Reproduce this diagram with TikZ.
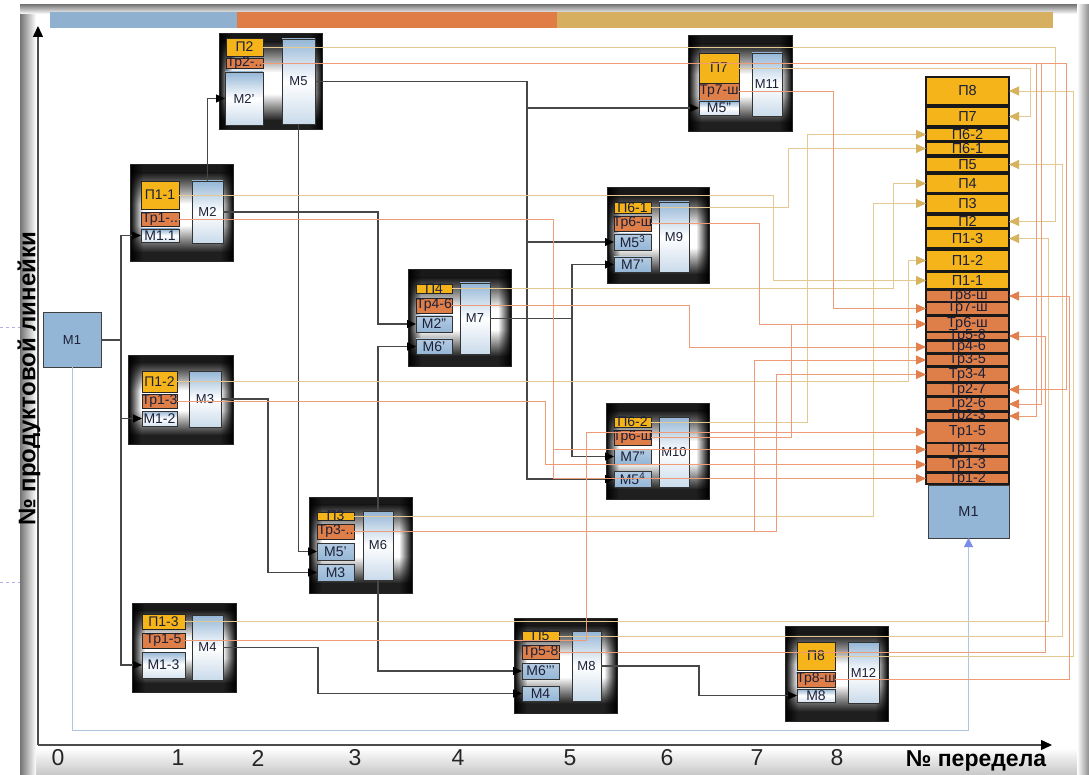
\documentclass[tikz,border=0pt]{standalone}
\usepackage{fontspec}
\setmainfont{Liberation Sans}
\usetikzlibrary{arrows.meta,fadings}
\definecolor{pY}{RGB}{245,180,25}
\definecolor{tO}{RGB}{222,126,72}
\definecolor{mB}{RGB}{148,182,214}
\definecolor{barB}{RGB}{143,176,207}
\definecolor{barO}{RGB}{224,124,70}
\definecolor{barT}{RGB}{214,176,96}
\definecolor{lnT}{RGB}{228,200,145}
\definecolor{lnS}{RGB}{238,155,120}
\definecolor{arT}{RGB}{215,178,95}
\definecolor{arS}{RGB}{226,128,78}
\definecolor{txt}{RGB}{28,32,56}
\definecolor{fbB}{RGB}{175,198,225}
\definecolor{lav}{RGB}{175,175,230}
\tikzfading[name=fadeL, left color=transparent!0, right color=transparent!100]
\tikzfading[name=fadeR, left color=transparent!100, right color=transparent!0]
\newcommand\mkbox[8]{%
 \pgfmathsetmacro\rcx{(#3+#5)/2}%
 \pgfmathsetmacro\rcy{(#4+#6)/2}%
 \pgfmathsetmacro\rw{#5-#3}%
 \pgfmathsetmacro\rh{#6-#4}%
 \node[#1,minimum width=\rw pt,minimum height=\rh pt,inner sep=0pt,outer sep=0pt] (#2) at (\rcx,\rcy) {};%
 \node[#8] (#2t) at (#2.center) {#7};}
\newcommand\mkframe[5]{%
 \pgfmathsetmacro\rcx{(#2+#4)/2}%
 \pgfmathsetmacro\rcy{(#3+#5)/2}%
 \pgfmathsetmacro\rw{#4-#2}%
 \pgfmathsetmacro\rh{#5-#3}%
 \pgfmathsetmacro\ya{#3+0.08*\rh}%
 \pgfmathsetmacro\yb{#3+0.40*\rh}%
 \pgfmathsetmacro\yc{#3+0.62*\rh}%
 \pgfmathsetmacro\yd{#3+0.90*\rh}%
 \fill[black!90] (#2,#3) rectangle (#4,\ya);%
 \shade[top color=black!90,bottom color=white] (#2,\ya) rectangle (#4,\yb);%
 \fill[white] (#2,\yb) rectangle (#4,\yc);%
 \shade[top color=white,bottom color=black!88] (#2,\yc) rectangle (#4,\yd);%
 \fill[black!88] (#2,\yd) rectangle (#4,#5);%
 \fill[black,path fading=fadeL] (#2,#3) rectangle ({#2+13},#5);%
 \fill[black,path fading=fadeR] ({#4-13},#3) rectangle (#4,#5);%
 \node[draw=black!85,line width=1pt,minimum width=\rw pt,minimum height=\rh pt,inner sep=0pt,outer sep=0pt] (#1) at (\rcx,\rcy) {};}
\begin{document}
\begin{tikzpicture}[x=1pt,y=-1pt,
 pbox/.style={fill=pY,draw=black!85,line width=.9pt},
 tbox/.style={fill=tO,draw=black!85,line width=.9pt},
 ibox/.style={top color=mB!70!white,bottom color=mB,draw=black!80,line width=.9pt},
 wbox/.style={top color=mB,bottom color=mB!40!white,middle color=white,draw=black!80,line width=.9pt},
 bigbox/.style={top color=mB,bottom color=mB!50!white,middle color=white,draw=black!80,line width=.9pt},
 cpbox/.style={fill=pY,draw=black!90,line width=1.1pt},
 ctbox/.style={fill=tO,draw=black!90,line width=1.1pt},
 m1box/.style={fill=mB,draw=black!75,line width=1pt},
 lbl/.style={font=\fontsize{14}{14}\selectfont,text=txt,inner sep=0pt},
 lblb/.style={font=\fontsize{13}{13}\selectfont,text=txt,inner sep=0pt},
 lblc/.style={font=\fontsize{14.5}{14.5}\selectfont,text=txt,inner sep=0pt},
 dk/.style={draw=black!72,line width=1.3pt},
 dkA/.style={dk,-{Triangle[length=9pt,width=8pt,color=black]}},
 tanA/.style={draw=lnT,line width=.9pt,-{Triangle[length=10pt,width=9pt,color=arT]}},
 salA/.style={draw=lnS,line width=.9pt,-{Triangle[length=10pt,width=9pt,color=arS]}},
 fbA/.style={draw=fbB,line width=1pt,-{Triangle[length=9pt,width=9pt,color=fbB!70!blue]}},
 axA/.style={draw=black!70,line width=1.4pt,-{Triangle[length=11pt,width=10pt,color=black]}},
 num/.style={font=\fontsize{23}{23}\selectfont,text=black!85,inner sep=0pt}]
\useasboundingbox (0,0) rectangle (1089,775);
\fill[white] (0,0) rectangle (1089,775);
% panel shadows
\shade[top color=white,bottom color=black!22] (20,748) rectangle (1089,775);
\shade[left color=black!55,right color=white] (20,5) rectangle (36,775);
\shade[top color=black!50,bottom color=white] (20,5) rectangle (1089,14);
\shade[left color=white,right color=black!45] (1077,5) rectangle (1089,775);
\draw[lav,dashed,line width=1pt] (0,328) -- (20,328);
\draw[lav,dashed,line width=1pt] (0,582) -- (20,582);
% top bar
\fill[barB] (50,12) rectangle (237,28);
\fill[barO] (237,12) rectangle (557,28);
\fill[barT] (557,12) rectangle (1053,28);

% ===== modules =====
\mkframe{f2}{130}{165}{233}{262}
\mkbox{pbox}{m2p}{141}{181}{179}{209}{П1-1}{lbl}
\mkbox{tbox}{m2t}{141}{212}{179}{226}{Тр1-..}{lbl}
\mkbox{wbox}{m2i}{141}{229}{179}{242}{М1.1}{lbl}
\mkbox{bigbox}{m2b}{192}{181}{223}{243}{М2}{lblb}

\mkframe{f5}{219}{34}{322}{130}
\mkbox{pbox}{m5p}{226}{38}{263}{56}{П2}{lbl}
\mkbox{tbox}{m5t}{226}{58}{263}{68}{Тр2-..}{lbl}
\mkbox{bigbox}{m5i}{225}{72}{263}{125}{М2’}{lblb}
\mkbox{bigbox}{m5b}{282}{39}{315}{124}{М5}{lblb}

\mkframe{f3}{128}{355}{233}{444}
\mkbox{pbox}{m3p}{142}{371}{177}{392}{П1-2}{lbl}
\mkbox{tbox}{m3t}{142}{394}{177}{408}{Тр1-3}{lbl}
\mkbox{wbox}{m3i}{142}{411}{177}{426}{М1-2}{lbl}
\mkbox{bigbox}{m3b}{189}{371}{221}{427}{М3}{lblb}

\mkframe{f4}{132}{603}{236}{692}
\mkbox{pbox}{m4p}{142}{614}{185}{629}{П1-3}{lbl}
\mkbox{tbox}{m4t}{142}{633}{185}{648}{Тр1-5}{lbl}
\mkbox{wbox}{m4i}{142}{652}{185}{678}{М1-3}{lbl}
\mkbox{bigbox}{m4b}{192}{615}{223}{680}{М4}{lblb}

\mkframe{f7}{408}{270}{511}{366}
\mkbox{pbox}{m7p}{416}{284}{452}{293}{П4}{lbl}
\mkbox{tbox}{m7t}{416}{298}{452}{313}{Тр4-6}{lbl}
\mkbox{ibox}{m7i1}{416}{316}{452}{332}{М2”}{lbl}
\mkbox{ibox}{m7i2}{416}{339}{452}{354}{М6’}{lbl}
\mkbox{bigbox}{m7b}{460}{283}{490}{354}{М7}{lblb}

\mkframe{f9}{607}{188}{709}{284}
\mkbox{pbox}{m9p}{614}{202}{651}{213}{П6-1}{lbl}
\mkbox{tbox}{m9t}{614}{216}{651}{231}{Тр6-ш}{lbl}
\mkbox{ibox}{m9i1}{614}{234}{651}{250}{М5\textsuperscript{3}}{lbl}
\mkbox{ibox}{m9i2}{614}{257}{651}{272}{М7’}{lbl}
\mkbox{bigbox}{m9b}{659}{202}{689}{272}{М9}{lblb}

\mkframe{f6}{309}{497}{412}{593}
\mkbox{pbox}{m6p}{317}{512}{354}{520}{П3}{lbl}
\mkbox{tbox}{m6t}{317}{524}{354}{539}{Тр3-..}{lbl}
\mkbox{ibox}{m6i1}{317}{543}{354}{560}{М5’}{lbl}
\mkbox{ibox}{m6i2}{317}{564}{354}{581}{М3}{lbl}
\mkbox{bigbox}{m6b}{363}{511}{393}{580}{М6}{lblb}

\mkframe{f10}{606}{403}{709}{499}
\mkbox{pbox}{m10p}{614}{417}{651}{427}{П6-2}{lbl}
\mkbox{tbox}{m10t}{614}{430}{651}{445}{Тр6-ш}{lbl}
\mkbox{ibox}{m10i1}{614}{449}{651}{464}{М7”}{lbl}
\mkbox{ibox}{m10i2}{614}{471}{651}{487}{М5\textsuperscript{4}}{lbl}
\mkbox{bigbox}{m10b}{659}{417}{689}{487}{М10}{lblb}

\mkframe{f8}{514}{618}{617}{713}
\mkbox{pbox}{m8p}{522}{631}{559}{641}{П5}{lbl}
\mkbox{tbox}{m8t}{522}{645}{559}{659}{Тр5-8}{lbl}
\mkbox{ibox}{m8i1}{522}{663}{559}{679}{М6’’’}{lbl}
\mkbox{ibox}{m8i2}{522}{686}{559}{701}{М4}{lbl}
\mkbox{bigbox}{m8b}{572}{631}{601}{701}{М8}{lblb}

\mkframe{f12}{785}{626}{888}{721}
\mkbox{pbox}{m12p}{797}{642}{835}{670}{П8}{lbl}
\mkbox{tbox}{m12t}{797}{672}{835}{687}{Тр8-ш}{lbl}
\mkbox{wbox}{m12i}{797}{689}{835}{702}{М8}{lbl}
\mkbox{bigbox}{m12b}{848}{642}{879}{703}{М12}{lblb}

\mkframe{f11}{688}{36}{792}{132}
\mkbox{pbox}{m11p}{699}{53}{739}{83}{П7}{lbl}
\mkbox{tbox}{m11t}{699}{83}{739}{100}{Тр7-ш}{lbl}
\mkbox{wbox}{m11i}{699}{101}{739}{115}{М5”}{lbl}
\mkbox{bigbox}{m11b}{752}{53}{782}{116}{М11}{lblb}

% left M1
\mkbox{m1box}{M1L}{43}{313}{101}{367}{М1}{lblb}

% ===== right column =====
\mkbox{cpbox}{cP8}{926}{77}{1009}{105}{П8}{lblc}
\mkbox{cpbox}{cP7}{926}{107}{1009}{126}{П7}{lblc}
\mkbox{cpbox}{cP62}{926}{128}{1009}{141}{П6-2}{lblc}
\mkbox{cpbox}{cP61}{926}{142}{1009}{155}{П6-1}{lblc}
\mkbox{cpbox}{cP5}{926}{157}{1009}{172}{П5}{lblc}
\mkbox{cpbox}{cP4}{926}{174}{1009}{193}{П4}{lblc}
\mkbox{cpbox}{cP3}{926}{194}{1009}{213}{П3}{lblc}
\mkbox{cpbox}{cP2}{926}{215}{1009}{228}{П2}{lblc}
\mkbox{cpbox}{cP13}{926}{229}{1009}{248}{П1-3}{lblc}
\mkbox{cpbox}{cP12}{926}{250}{1009}{271}{П1-2}{lblc}
\mkbox{cpbox}{cP11}{926}{272}{1009}{289}{П1-1}{lblc}
\mkbox{ctbox}{cT8}{926}{290}{1009}{302}{Тр8-ш}{lblc}
\mkbox{ctbox}{cT7}{926}{302}{1009}{315}{Тр7-ш}{lblc}
\mkbox{ctbox}{cT6}{926}{316}{1009}{332}{Тр6-ш}{lblc}
\mkbox{ctbox}{cT58}{926}{332}{1009}{340}{Тр5-8}{lblc}
\mkbox{ctbox}{cT46}{926}{341}{1009}{353}{Тр4-6}{lblc}
\mkbox{ctbox}{cT35}{926}{354}{1009}{366}{Тр3-5}{lblc}
\mkbox{ctbox}{cT34}{926}{367}{1009}{382}{Тр3-4}{lblc}
\mkbox{ctbox}{cT27}{926}{383}{1009}{396}{Тр2-7}{lblc}
\mkbox{ctbox}{cT26}{926}{397}{1009}{411}{Тр2-6}{lblc}
\mkbox{ctbox}{cT23}{926}{412}{1009}{420}{Тр2-3}{lblc}
\mkbox{ctbox}{cT15}{926}{421}{1009}{443}{Тр1-5}{lblc}
\mkbox{ctbox}{cT14}{926}{443}{1009}{456}{Тр1-4}{lblc}
\mkbox{ctbox}{cT13}{926}{457}{1009}{472}{Тр1-3}{lblc}
\mkbox{ctbox}{cT12}{926}{473}{1009}{484}{Тр1-2}{lblc}
\mkbox{m1box}{M1R}{928}{485}{1009}{538}{М1}{lblc}

% ===== dark connectors =====
\coordinate (bus1) at (121,0 |- M1L.east);
\draw[dk] (M1L.east) -- (bus1);
\draw[dkA] (bus1) |- (m2i.west);
\draw[dkA] (bus1) |- (m3i.west);
\draw[dkA] (bus1) |- (m4i.west);
\draw[dkA] (m2b.north) |- (m5i.west);
\draw[dkA] (m2b.east) -- (378,0 |- m2b.east) |- (m7i1.west);
\draw[dkA] (m5b.south) |- (m6i1.west);
\coordinate (bus5) at (527,0 |- m5b.east);
\draw[dk] (m5b.east) -- (bus5);
\draw[dkA] (bus5) |- (m9i1.west);
\draw[dkA] (bus5) |- (m10i2.west);
\draw[dkA] (bus5 |- m11i.west) -- (m11i.west);
\draw[dkA] (m3b.east) -- (268,0 |- m3b.east) |- (m6i2.west);
\draw[dkA] (m6b.north) |- (m7i2.west);
\draw[dkA] (m6b.south) |- (m8i1.west);
\coordinate (bus7) at (572,0 |- m7b.east);
\draw[dk] (m7b.east) -- (bus7);
\draw[dkA] (bus7) |- (m9i2.west);
\draw[dkA] (bus7) |- (m10i1.west);
\draw[dkA] (m4b.east) -- (318,0 |- m4b.east) |- (m8i2.west);
\draw[dkA] (m8b.east) -- (699,0 |- m8b.east) |- (m12i.west);
\draw[fbA] (M1L.south) -- (M1L.south |- 0,730) -| (M1R.south);

% ===== thin lines: P (tan) =====
\draw[tanA] (m2p.east) -| (773,0 |- cP11.west) -- (cP11.west);
\draw[tanA] (m3p.east) -| (908,0 |- cP12.west) -- (cP12.west);
\draw[tanA] (m7p.east) -| (893,0 |- cP4.west) -- (cP4.west);
\draw[tanA] (m6p.east) -| (873,0 |- cP3.west) -- (cP3.west);
\draw[tanA] (m9p.east) -| (788,0 |- cP61.west) -- (cP61.west);
\draw[tanA] (m10p.east) -| (807,0 |- cP62.west) -- (cP62.west);
\draw[tanA] (m5p.east) -| (1055,0 |- cP2.east) -- (cP2.east);
\draw[tanA] (m11p.east) -| (1030,0 |- cP7.east) -- (cP7.east);
\draw[tanA] (m8p.east) -| (1062,0 |- cP5.east) -- (cP5.east);
\draw[tanA] (m4p.east) -| (1048,0 |- cP13.east) -- (cP13.east);
\draw[tanA] (m12p.east) -| (1073,0 |- cP8.east) -- (cP8.east);
% ===== thin lines: Tr (salmon) =====
\draw[salA] (m11t.east) -| (833,0 |- cT7.west) -- (cT7.west);
\draw[salA] (m9t.east) -| (759,0 |- cT6.west) -- (cT6.west);
\draw[salA] (m10t.east) -| (791,0 |- cT6.west) -- (cT6.west);
\draw[salA] (m7t.east) -| (689,0 |- cT46.west) -- (cT46.west);
\draw[salA] (m6t.east) -| (754,0 |- cT35.west) -- (cT35.west);
\draw[salA] (m6t.east) -| (776,0 |- cT34.west) -- (cT34.west);
\draw[salA] (m4t.east) -| (586,0 |- cT15.west) -- (cT15.west);
\draw[salA] (m2t.east) -| (553,0 |- cT12.west) -- (cT12.west);
\draw[salA] (m2t.east) -| (553,0 |- cT14.west) -- (cT14.west);
\draw[salA] (m3t.east) -| (545,0 |- cT13.west) -- (cT13.west);
\draw[salA] (m5t.east) -| (1036,0 |- cT23.east) -- (cT23.east);
\draw[salA] (m5t.east) -| (1041,0 |- cT26.east) -- (cT26.east);
\draw[salA] (m5t.east) -| (1066,0 |- cT27.east) -- (cT27.east);
\draw[salA] (m8t.east) -| (1045,0 |- cT58.east) -- (cT58.east);
\draw[salA] (m12t.east) -| (1069,0 |- cT8.east) -- (cT8.east);

% ===== axes =====
\coordinate (orig) at (38,745);
\coordinate (ytip) at (38,26);
\coordinate (xtip) at (1052,745);
\draw[axA] (orig) -- (ytip);
\draw[axA] (orig) -- (xtip);
\node[num] (n0) at (58,758) {0};
\node[num] (n1) at (178,758) {1};
\node[num] (n2) at (258,758) {2};
\node[num] (n3) at (355,758) {3};
\node[num] (n4) at (458,758) {4};
\node[num] (n5) at (570,758) {5};
\node[num] (n6) at (667,758) {6};
\node[num] (n7) at (757,758) {7};
\node[num] (n8) at (837,758) {8};
\node[font=\fontsize{23}{23}\selectfont\bfseries,inner sep=0pt] (xl) at (976,761) {№ передела};
\node[font=\fontsize{24}{24}\selectfont\bfseries,inner sep=0pt,rotate=90] (yl) at (29,379) {№ продуктовой линейки};
\end{tikzpicture}
\end{document}
